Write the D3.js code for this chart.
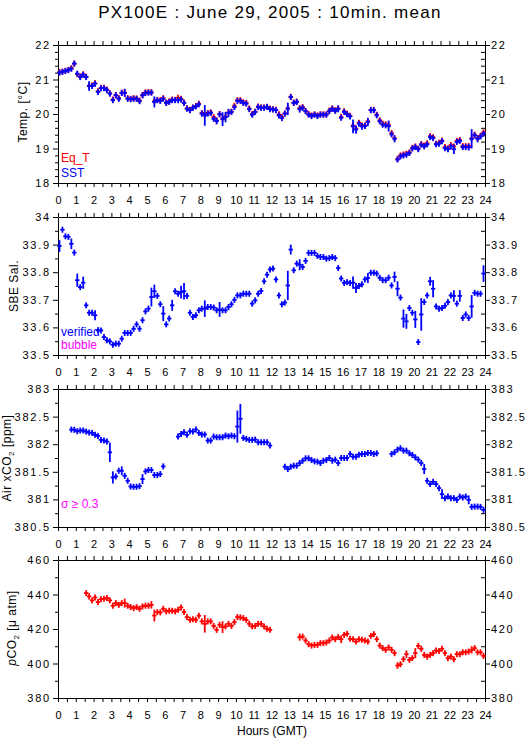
<!DOCTYPE html>
<html><head><meta charset="utf-8">
<script src="https://cdn.jsdelivr.net/npm/d3@7"></script>
<style>
body{margin:0;background:#fff;}
text{font-family:"Liberation Sans",Arial,Helvetica,sans-serif;}
</style></head><body>
<svg id="c" width="529" height="739"></svg>
<script>
// ---- data (10-minute slots, slot i covers hours i/6 .. (i+1)/6) ----
const hourTicks = d3.range(0, 24.5, 0.5);
const tempTicks = [18, 19, 20, 21, 22];
const salTicks = [33.5, 33.6, 33.7, 33.8, 33.9, 34];
const xco2Ticks = [380.5, 381, 381.5, 382, 382.5, 383];
const pco2Ticks = [380, 400, 420, 440, 460];

const sst = [21.20,21.22,21.25,21.27,21.31,21.46,21.17,21.07,21.14,21.07,
20.81,20.81,20.88,20.64,20.75,20.75,20.69,20.59,20.40,20.54,
20.44,20.61,20.61,20.44,20.43,20.44,20.44,20.37,20.54,20.61,
20.62,20.62,20.35,20.40,20.38,20.44,20.32,20.35,20.40,20.40,
20.40,20.42,20.32,20.15,20.11,20.18,20.22,20.28,20.01,19.96,
20.01,20.03,19.86,19.80,19.99,19.85,19.91,20.03,20.06,20.20,
20.38,20.38,20.32,20.30,20.14,19.98,20.06,20.20,20.18,20.18,
20.20,20.14,20.13,20.11,19.96,19.88,20.01,20.15,20.49,20.32,
20.35,20.14,20.18,20.08,19.98,19.94,19.98,19.94,19.98,19.98,
19.98,20.08,20.15,20.09,20.15,19.89,20.06,19.99,19.93,19.64,
19.55,19.72,19.64,19.65,19.77,20.11,20.11,19.96,19.79,19.69,
19.67,19.65,19.41,19.28,18.68,18.77,18.80,18.82,18.87,19.00,
19.04,18.98,19.11,19.06,19.12,19.33,19.30,19.12,19.14,19.21,
19.01,18.98,19.06,18.98,19.19,19.22,19.04,19.04,19.04,19.28,
19.38,19.28,19.35,19.43];
const sstErr = [[10,0.14],[13,0.05],[22,0.12],[32,0.16],[35,0.08],[49,0.3],[53,0.1],[55,0.2],[56,0.15],[57,0.12],[77,0.18],[81,0.1],[94,0.1],[96,0.08],[99,0.2],[100,0.12],[102,0.1],[104,0.12],[111,0.16],[113,0.1],[114,0.07],[121,0.05],[125,0.07],[133,0.14],[138,0.1],[139,0.28],[141,0.1]];

const eqT = [21.21,21.23,21.25,21.28,21.33,21.46,21.16,21.09,21.15,21.08,
20.82,20.83,20.89,20.66,20.76,20.76,20.71,20.60,20.42,20.55,
20.46,20.62,20.62,20.46,20.44,20.46,20.45,20.39,20.55,20.63,
20.63,20.63,20.37,20.41,20.40,20.46,20.33,20.37,20.42,20.41,
20.47,20.44,20.33,20.17,20.12,20.19,20.23,20.30,20.03,19.97,
20.03,20.05,19.91,19.81,20.00,19.87,19.93,20.05,20.07,20.24,
20.40,20.40,20.34,20.32,20.16,20.00,20.07,20.22,20.19,20.19,
20.21,20.16,20.14,20.12,19.99,19.91,20.02,20.17,20.50,20.33,
20.36,20.17,20.20,20.09,20.00,19.96,19.99,19.96,19.99,19.99,
19.99,20.10,20.16,20.11,20.16,19.92,20.08,20.01,19.95,19.67,
19.58,19.75,19.67,19.67,19.79,20.12,20.12,19.98,19.82,19.72,
19.70,19.68,19.45,19.30,18.70,18.80,18.83,18.85,18.89,19.02,
19.06,19.00,19.13,19.09,19.15,19.36,19.33,19.14,19.17,19.23,
19.04,19.01,19.10,19.06,19.22,19.25,19.07,19.07,19.07,19.29,
19.40,19.30,19.37,19.47];

const sal = [33.895,33.954,33.930,33.928,33.903,33.871,33.771,33.746,33.762,33.680,
33.653,33.653,33.644,33.589,33.589,33.565,33.553,33.549,33.537,33.541,
33.541,33.559,33.580,33.580,33.580,33.595,33.611,33.595,33.626,33.658,
33.668,33.710,33.731,33.714,33.684,33.650,33.611,33.632,33.680,33.731,
33.722,33.728,33.731,33.714,33.653,33.638,33.644,33.662,33.668,33.668,
33.674,33.674,33.672,33.662,33.665,33.662,33.662,33.674,33.684,33.700,
33.716,33.716,33.722,33.722,33.722,33.686,33.698,33.722,33.732,33.767,
33.791,33.810,33.813,33.774,33.716,33.684,33.690,33.752,33.882,33.807,
33.831,33.827,33.819,33.841,33.870,33.870,33.870,33.859,33.855,33.855,
33.849,33.851,33.855,33.851,33.815,33.777,33.761,33.764,33.761,33.762,
33.743,33.750,33.756,33.774,33.779,33.798,33.798,33.795,33.780,33.771,
33.771,33.780,33.752,33.783,33.740,33.708,33.632,33.622,33.670,33.653,
33.629,33.547,33.647,33.692,33.716,33.767,33.740,33.676,33.668,33.670,
33.678,33.692,33.716,33.714,33.686,33.714,33.634,33.647,33.634,33.676,
33.725,33.722,33.722,33.795];
const salErr = [[0,0.021],[4,0.019],[6,0.024],[8,0.022],[12,0.018],[31,0.034],[32,0.024],[35,0.027],[38,0.02],[41,0.023],[42,0.03],[49,0.03],[54,0.027],[77,0.053],[78,0.018],[81,0.02],[99,0.022],[100,0.018],[104,0.018],[113,0.019],[114,0.027],[116,0.033],[117,0.027],[120,0.031],[122,0.059],[125,0.016],[126,0.031],[133,0.021],[135,0.021],[139,0.041],[143,0.03]];

const xco2 = [null,null,null,null,
382.266,382.260,382.235,382.248,382.248,382.229,382.211,382.205,382.169,382.150,
382.078,382.066,382.047,381.853,381.398,381.416,381.519,381.519,381.428,381.337,
381.234,381.228,381.228,381.240,381.368,381.507,381.531,381.531,381.441,381.441,
381.459,381.598,
null,null,null,null,
382.138,382.187,382.217,382.169,382.235,382.229,382.266,382.205,382.175,382.175,
382.066,382.066,382.138,382.126,382.126,382.126,382.157,382.144,382.157,382.144,
382.320,382.460,382.114,382.096,382.078,382.078,382.084,382.035,382.035,382.035,
382.035,381.975,
null,null,null,null,
381.592,381.550,381.592,381.610,381.610,381.659,381.701,381.744,381.744,381.714,
381.689,381.683,381.659,381.701,381.714,381.750,381.701,381.720,381.659,381.750,
381.750,381.750,381.823,381.774,381.774,381.811,381.823,381.823,381.841,381.841,
381.823,381.835,
null,null,null,null,
381.823,381.853,381.902,381.926,381.883,381.883,381.835,381.805,381.762,381.720,
381.659,381.550,381.337,381.277,381.319,381.277,381.204,381.095,381.022,381.052,
381.022,381.022,380.992,381.052,381.034,381.052,380.992,380.864,380.870,380.870,
380.864,380.810];
const xco2Err = [[17,0.176],[18,0.11],[21,0.08],[28,0.09],[60,0.29],[61,0.27],[71,0.05],[123,0.09],[129,0.09],[138,0.08]];

const pco2 = [null,null,null,null,null,null,null,null,null,
440.8,438.9,436.6,438.3,435.6,437.3,437.5,437.9,436.6,433.5,
435.0,434.0,435.0,435.0,433.5,432.7,432.1,432.7,431.7,433.1,
433.5,433.5,434.0,427.8,429.8,429.6,431.7,430.2,430.6,430.6,
430.2,431.1,432.5,429.8,426.9,425.3,425.7,425.3,427.7,424.4,
423.0,424.4,424.4,421.8,419.5,422.4,421.1,421.5,423.0,421.8,
424.0,426.9,426.7,426.3,425.3,423.0,421.5,421.8,423.0,423.0,
421.5,420.1,419.5,
null,null,null,null,null,null,null,null,null,
415.3,415.6,413.3,411.2,410.4,410.8,410.8,411.8,411.8,412.2,
413.3,415.1,414.1,415.3,414.1,416.6,417.2,414.3,414.1,412.7,
414.1,413.7,413.3,412.7,416.0,417.0,414.1,410.4,408.9,407.9,
409.3,407.9,406.0,398.8,399.6,402.5,405.4,402.1,403.1,406.0,
410.2,408.5,405.0,404.0,405.0,406.0,407.5,407.3,408.5,406.0,
403.1,404.0,402.5,405.4,405.4,406.5,406.5,406.9,407.9,408.9,
406.5,406.5,404.4];
const pco2Err = [[10,1.9],[22,2.6],[31,2.2],[32,3.4],[49,5.1],[55,3.4],[81,2.1],[95,2.2],[114,1.9],[117,2.1],[120,2.9],[139,2.1]];

// ---- drawing ----
const svg = d3.select("#c");
svg.append("rect").attr("width", 529).attr("height", 739).attr("fill", "#fff");
const x = d3.scaleLinear().domain([0, 24]).range([58, 485]);
const L = 58, R = 485;
const PH = 138;

const fmt = d => String(+d.toFixed(2));

function drawSeries(g, y, vals, errs, color) {
  const em = new Map(errs);
  const pts = vals.map((v, i) => ({i, v, e: em.get(i) || 0})).filter(d => d.v != null);
  g.append("g").selectAll("line").data(pts).join("line")
    .attr("x1", d => x(d.i / 6) - 0.7).attr("x2", d => x((d.i + 1) / 6) + 0.7)
    .attr("y1", d => y(d.v)).attr("y2", d => y(d.v))
    .attr("stroke", color).attr("stroke-width", 1.8);
  g.append("g").selectAll("line").data(pts).join("line")
    .attr("x1", d => x((d.i + 0.5) / 6)).attr("x2", d => x((d.i + 0.5) / 6))
    .attr("y1", d => Math.min(y(d.v + d.e), y(d.v) - 3))
    .attr("y2", d => Math.max(y(d.v - d.e), y(d.v) + 3))
    .attr("stroke", color).attr("stroke-width", 1.8);
}

function panel(top, domain, ticks, minorStep, series, ylabel) {
  const y = d3.scaleLinear().domain(domain).range([top + PH, top]);
  const g = svg.append("g");
  const minor = d3.range(0, Math.round((domain[1] - domain[0]) / minorStep) + 1)
    .map(k => domain[0] + k * minorStep)
    .filter(v => !ticks.some(t => Math.abs(t - v) < 1e-6));

  // left axis
  const la = g.append("g").attr("transform", `translate(${L},0)`)
    .call(d3.axisLeft(y).tickValues(ticks).tickSize(5).tickSizeOuter(0).tickPadding(2).tickFormat(fmt));
  g.append("g").attr("transform", `translate(${L},0)`)
    .call(d3.axisLeft(y).tickValues(minor).tickSize(3).tickSizeOuter(0).tickFormat(""))
    .select(".domain").remove();
  // right axis
  const ra = g.append("g").attr("transform", `translate(${R},0)`)
    .call(d3.axisRight(y).tickValues(ticks).tickSize(5).tickSizeOuter(0).tickPadding(1).tickFormat(fmt));
  g.append("g").attr("transform", `translate(${R},0)`)
    .call(d3.axisRight(y).tickValues(minor).tickSize(-4).tickSizeOuter(0).tickFormat(""))
    .select(".domain").remove();
  la.selectAll("text").attr("letter-spacing", "1.8px");
  ra.selectAll("text").attr("letter-spacing", "1.6px");
  [la, ra].forEach(a => a.selectAll("text").attr("font-size", 11)
    .attr("font-family", '"Liberation Sans",Arial,sans-serif').attr("fill", "#000"));
  // top / bottom axes
  g.append("g").attr("transform", `translate(0,${top})`)
    .call(d3.axisTop(x).tickValues(hourTicks).tickSize(4).tickSizeOuter(0).tickFormat(""));
  const ba = g.append("g").attr("transform", `translate(0,${top + PH})`)
    .call(d3.axisBottom(x).tickValues(hourTicks).tickSize(4).tickSizeOuter(0).tickPadding(9)
      .tickFormat(d => d % 1 === 0 ? d : ""));
  ba.selectAll("text").attr("font-size", 11).attr("fill", "#000")
    .attr("font-family", '"Liberation Sans",Arial,sans-serif');
  g.selectAll(".domain").attr("stroke", "#000");
  g.selectAll(".tick line").attr("stroke", "#000");

  series.forEach(s => drawSeries(g, y, s.vals, s.errs, s.color));

  // y label
  const t = g.append("text").attr("text-anchor", "middle").attr("font-size", 12)
    .attr("letter-spacing", "0.5px")
    .attr("transform", `translate(${ylabel.bx},${ylabel.cy}) rotate(-90)`);
  ylabel.parts.forEach(p => {
    const ts = t.append("tspan").text(p.t);
    if (p.sub) ts.attr("font-size", 8).attr("dy", 3);
    if (p.after) ts.attr("dy", -3);
    if (p.it) ts.attr("font-style", "italic");
  });
  return {g, y};
}

// title
svg.append("text").attr("x", 270).attr("y", 18).attr("text-anchor", "middle")
  .attr("font-size", 17).attr("letter-spacing", "1.3px")
  .text("PX100E : June 29, 2005 : 10min. mean");

const p1 = panel(45, [18, 22], tempTicks, 0.2,
  [{vals: eqT, errs: [], color: "#ff0000"}, {vals: sst, errs: sstErr, color: "#0000ff"}],
  {bx: 27, cy: 112, parts: [{t: "Temp. [°C]"}]});
p1.g.append("text").attr("x", 61).attr("y", 162).attr("font-size", 12).attr("fill", "#ff0000").text("Eq_T");
p1.g.append("text").attr("x", 61).attr("y", 177).attr("font-size", 12).attr("fill", "#0000ff").text("SST");

const p2 = panel(217, [33.5, 34], salTicks, 0.05,
  [{vals: sal, errs: salErr, color: "#0000ff"}],
  {bx: 18, cy: 286, parts: [{t: "SBE Sal."}]});
p2.g.append("text").attr("x", 61).attr("y", 336).attr("font-size", 12).attr("fill", "#0000ff").text("verified");
p2.g.append("text").attr("x", 61).attr("y", 349).attr("font-size", 12).attr("fill", "#ff00ff").text("bubble");

const p3 = panel(389, [380.5, 383], xco2Ticks, 0.25,
  [{vals: xco2, errs: xco2Err, color: "#0000ff"}],
  {bx: 11, cy: 458, parts: [{t: "Air xCO"}, {t: "2", sub: true}, {t: " [ppm]", after: true}]});
p3.g.append("text").attr("x", 61).attr("y", 508).attr("font-size", 12).attr("fill", "#ff00ff").text("σ ≥ 0.3");

const p4 = panel(560, [380, 460], pco2Ticks, 10,
  [{vals: pco2, errs: pco2Err, color: "#ff0000"}],
  {bx: 16, cy: 628, parts: [{t: "p", it: true}, {t: "CO"}, {t: "2", sub: true}, {t: " [μ atm]", after: true}]});

svg.append("text").attr("x", 272).attr("y", 735).attr("text-anchor", "middle")
  .attr("font-size", 12).text("Hours (GMT)");
</script>
</body></html>
